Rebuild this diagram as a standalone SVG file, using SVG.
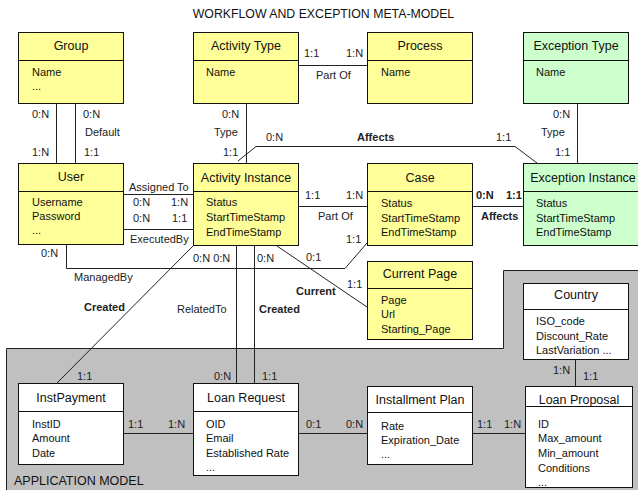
<svg xmlns="http://www.w3.org/2000/svg" width="638" height="490" viewBox="0 0 638 490">
<style>
text{font-family:"Liberation Sans",Arial,sans-serif;fill:#111}
.h{font-size:12.5px;text-anchor:middle}
.a{font-size:11px}
.l{font-size:11px;fill:#222}
.b{font-weight:bold}
.y{fill:#ffff99;stroke:#111;stroke-width:1}
.g{fill:#ccffcc;stroke:#111;stroke-width:1}
.w{fill:#ffffff;stroke:#111;stroke-width:1}
.d{stroke:#111;stroke-width:1}
.c{fill:none;stroke:#222;stroke-width:1}
</style>
<rect width="638" height="490" fill="#ffffff"/>
<text x="323.5" y="18" class="h" style="font-size:12.3px">WORKFLOW AND EXCEPTION META-MODEL</text>
<path d="M6.5,491 L6.5,348.5 L503.5,348.5 L503.5,270.5 L640,270.5 L640,491 Z" fill="#c0c0c0" stroke="#222" stroke-width="1"/>
<text x="14" y="485" style="font-size:12.5px">APPLICATION MODEL</text>
<g id="connectors">
<path class="c" d="M56.5,103 V163 M75.5,103 V163"/>
<path class="c" d="M246.5,103 V163"/>
<path class="c" d="M298,65.5 H367"/>
<path class="c" d="M238,161 L256,146.5 H515 L537,163"/>
<path class="c" d="M577.5,103 V163"/>
<path class="c" d="M123,194.5 H193 M123,229.5 H193"/>
<path class="c" d="M298,206.5 H367 M472,206.5 H523"/>
<path class="c" d="M66.5,244 V268.5 H345 L367,243"/>
<path class="c" d="M194,245 L57,383"/>
<path class="c" d="M236.5,245 V383 M254.5,245 V383"/>
<path class="c" d="M277,246 L367,307"/>
<path class="c" d="M123,433.5 H193 M298,433.5 H367 M472,433.5 H525"/>
<path class="c" d="M575.5,359 V386"/>
</g>
<g id="labels">
<text x="304" y="57" class="l">1:1</text>
<text x="346" y="57" class="l">1:N</text>
<text x="316" y="79" class="l">Part Of</text>
<text x="32" y="118" class="l">0:N</text>
<text x="83" y="118" class="l">0:N</text>
<text x="85" y="136" class="l">Default</text>
<text x="32" y="156" class="l">1:N</text>
<text x="84" y="156" class="l">1:1</text>
<text x="222" y="118" class="l">0:N</text>
<text x="214" y="136" class="l">Type</text>
<text x="223" y="156" class="l">1:1</text>
<text x="266" y="141" class="l">0:N</text>
<text x="357" y="141" class="l b">Affects</text>
<text x="496" y="141" class="l">1:1</text>
<text x="553" y="118" class="l">0:N</text>
<text x="541" y="136" class="l">Type</text>
<text x="555" y="156" class="l">1:1</text>
<text x="129" y="191" class="l">Assigned To</text>
<text x="133" y="206" class="l">0:N</text>
<text x="171" y="206" class="l">1:N</text>
<text x="133" y="222" class="l">0:N</text>
<text x="172" y="222" class="l">1:1</text>
<text x="130" y="243" class="l">ExecutedBy</text>
<text x="305" y="199" class="l">1:1</text>
<text x="346" y="199" class="l">1:N</text>
<text x="318" y="220" class="l">Part Of</text>
<text x="476" y="199" class="l b">0:N</text>
<text x="506" y="199" class="l b">1:1</text>
<text x="481" y="220" class="l b">Affects</text>
<text x="41" y="257" class="l">0:N</text>
<text x="193" y="262" class="l">0:N 0:N</text>
<text x="257" y="262" class="l">0:N</text>
<text x="306" y="261" class="l">0:1</text>
<text x="346" y="243" class="l">1:1</text>
<text x="74" y="281" class="l">ManagedBy</text>
<text x="296" y="295" class="l b">Current</text>
<text x="347" y="288" class="l">1:1</text>
<text x="84" y="311" class="l b">Created</text>
<text x="177" y="313" class="l">RelatedTo</text>
<text x="259" y="313" class="l b">Created</text>
<text x="77" y="380" class="l">1:1</text>
<text x="214" y="380" class="l">0:N</text>
<text x="262" y="380" class="l">1:1</text>
<text x="128" y="428" class="l">1:1</text>
<text x="168" y="428" class="l">1:N</text>
<text x="306" y="428" class="l">0:1</text>
<text x="346" y="428" class="l">0:N</text>
<text x="477" y="428" class="l">1:1</text>
<text x="504" y="428" class="l">1:N</text>
<text x="553" y="374" class="l">1:N</text>
<text x="583" y="380" class="l">1:1</text>
</g>
<g id="group">
<rect x="18.5" y="32.5" width="105" height="71" class="y"/>
<path d="M18.5,60.5 H123.5" class="d"/>
<text x="71" y="50" class="h">Group</text>
<text x="32" y="76" class="a">Name</text>
<text x="32" y="90" class="a">...</text>
</g>
<g id="activity-type">
<rect x="193.5" y="32.5" width="105" height="71" class="y"/>
<path d="M193.5,60.5 H298.5" class="d"/>
<text x="246" y="50" class="h">Activity Type</text>
<text x="206" y="76" class="a">Name</text>
</g>
<g id="process">
<rect x="367.5" y="32.5" width="105" height="71" class="y"/>
<path d="M367.5,60.5 H472.5" class="d"/>
<text x="420" y="50" class="h">Process</text>
<text x="381" y="76" class="a">Name</text>
</g>
<g id="exception-type">
<rect x="523.5" y="32.5" width="105" height="71" class="g"/>
<path d="M523.5,60.5 H628.5" class="d"/>
<text x="576" y="50" class="h">Exception Type</text>
<text x="536" y="76" class="a">Name</text>
</g>
<g id="user">
<rect x="18.5" y="163.5" width="105" height="81" class="y"/>
<path d="M18.5,191.5 H123.5" class="d"/>
<text x="71" y="181" class="h">User</text>
<text x="32" y="206" class="a">Username</text>
<text x="32" y="220" class="a">Password</text>
<text x="32" y="234" class="a">...</text>
</g>
<g id="activity-instance">
<rect x="193.5" y="163.5" width="105" height="82" class="y"/>
<path d="M193.5,191.5 H298.5" class="d"/>
<text x="246" y="181.5" class="h">Activity Instance</text>
<text x="206" y="206" class="a">Status</text>
<text x="206" y="221" class="a">StartTimeStamp</text>
<text x="206" y="236" class="a">EndTimeStamp</text>
</g>
<g id="case">
<rect x="367.5" y="163.5" width="105" height="82" class="y"/>
<path d="M367.5,191.5 H472.5" class="d"/>
<text x="420" y="181.5" class="h">Case</text>
<text x="381" y="207" class="a">Status</text>
<text x="381" y="222" class="a">StartTimeStamp</text>
<text x="381" y="236" class="a">EndTimeStamp</text>
</g>
<g id="exception-instance">
<rect x="523.5" y="163.5" width="118" height="82" class="g"/>
<path d="M523.5,191.5 H641" class="d"/>
<text x="583" y="181.5" class="h">Exception Instance</text>
<text x="536" y="207" class="a">Status</text>
<text x="536" y="222" class="a">StartTimeStamp</text>
<text x="536" y="236" class="a">EndTimeStamp</text>
</g>
<g id="current-page">
<rect x="367.5" y="261.5" width="105" height="78" class="y"/>
<path d="M367.5,288.5 H472.5" class="d"/>
<text x="420" y="278" class="h">Current Page</text>
<text x="381" y="304" class="a">Page</text>
<text x="381" y="318" class="a">Url</text>
<text x="381" y="333" class="a">Starting_Page</text>
</g>
<g id="country">
<rect x="523.5" y="283.5" width="105" height="76" class="w"/>
<path d="M523.5,309.5 H628.5" class="d"/>
<text x="576" y="299" class="h">Country</text>
<text x="536" y="325" class="a">ISO_code</text>
<text x="536" y="340" class="a">Discount_Rate</text>
<text x="536" y="354" class="a">LastVariation  ...</text>
</g>
<g id="inst-payment">
<rect x="18.5" y="383.5" width="105" height="81" class="w"/>
<path d="M18.5,411.5 H123.5" class="d"/>
<text x="71" y="402" class="h">InstPayment</text>
<text x="32" y="428" class="a">InstID</text>
<text x="32" y="442" class="a">Amount</text>
<text x="32" y="457" class="a">Date</text>
</g>
<g id="loan-request">
<rect x="193.5" y="383.5" width="105" height="92" class="w"/>
<path d="M193.5,411.5 H298.5" class="d"/>
<text x="246" y="402" class="h">Loan Request</text>
<text x="206" y="428" class="a">OID</text>
<text x="206" y="442" class="a">Email</text>
<text x="206" y="457" class="a">Established Rate</text>
<text x="206" y="471" class="a">...</text>
</g>
<g id="installment-plan">
<rect x="367.5" y="386.5" width="105" height="78" class="w"/>
<path d="M367.5,412.5 H472.5" class="d"/>
<text x="420" y="404" class="h">Installment Plan</text>
<text x="381" y="430" class="a">Rate</text>
<text x="381" y="444" class="a">Expiration_Date</text>
<text x="381" y="458" class="a">...</text>
</g>
<g id="loan-proposal">
<rect x="525.5" y="386.5" width="107" height="101" class="w"/>
<path d="M525.5,406.5 H632.5" class="d"/>
<text x="579" y="404" class="h">Loan Proposal</text>
<text x="538" y="428" class="a">ID</text>
<text x="538" y="442" class="a">Max_amount</text>
<text x="538" y="457" class="a">Min_amount</text>
<text x="538" y="472" class="a">Conditions</text>
<text x="538" y="486" class="a">...</text>
</g>
</svg>
